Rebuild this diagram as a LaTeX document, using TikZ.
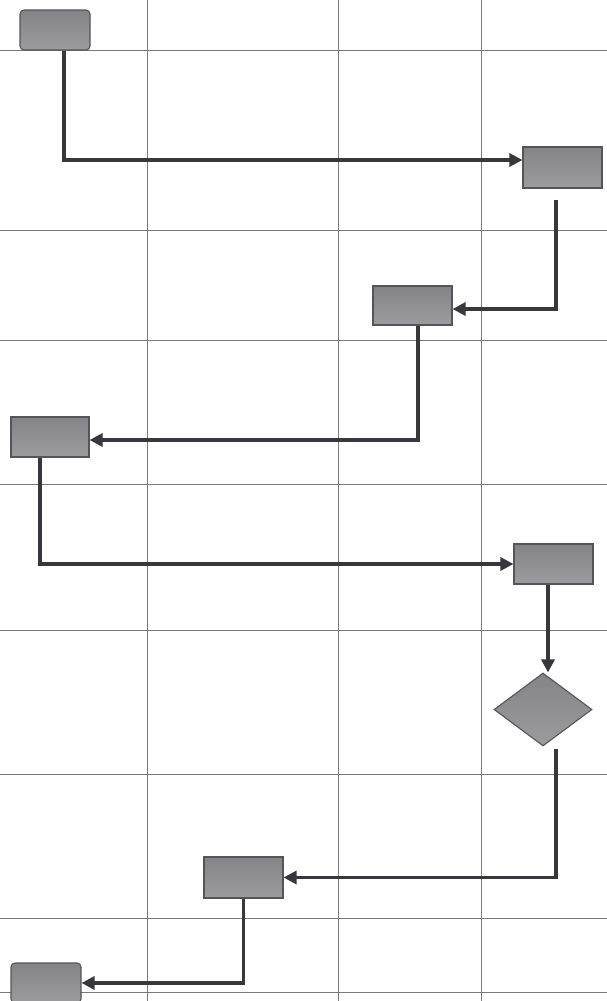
\documentclass[tikz,border=0pt]{standalone}
\usepackage{xcolor}
\usepackage{tikz}
\usetikzlibrary{shapes.geometric, arrows.meta, positioning, calc}

\definecolor{boxtop}{RGB}{132,132,134}
\definecolor{boxbot}{RGB}{156,156,158}
\definecolor{flowcol}{RGB}{55,55,60}
\definecolor{gridcol}{RGB}{120,120,126}

\tikzset{
	stepbox/.style={draw=flowcol!85, line width=1.1pt, top color=boxtop, bottom color=boxbot, minimum width=79pt, minimum height=40pt, inner sep=0pt},
	endbox/.style={stepbox, rounded corners=4pt, minimum width=70pt},
	choice/.style={stepbox, shape=diamond, minimum width=98pt, minimum height=73pt},
	flow/.style={draw=flowcol, line width=3.2pt, -{Triangle[length=13pt,width=13pt]}},
	gridline/.style={draw=gridcol, line width=0.9pt}
}

\begin{document}
\begin{tikzpicture}[x=1pt, y=-1pt]
			\useasboundingbox (0,0) rectangle (607,1001);
			\clip (0,0) rectangle (607,1001);
			\fill[white] (0,0) rectangle (607,1001);
			
			\foreach \x in {147, 338, 481}
			\draw[gridline] (\x, 0) -- (\x, 1001);
			
			\foreach \y in {50, 230, 340, 484, 630, 774, 918, 992}
			\draw[gridline] (0, \y) -- (607, \y);
			
			\node[endbox] (start) at (55, 30) {};
			\node[stepbox, minimum height=41pt] (stepa) at (562.5, 167.5) {};
			\node[stepbox, minimum height=39pt] (stepb) at (412.5, 305.5) {};
			\node[stepbox, minimum width=78pt] (stepc) at (50, 437) {};
			\node[stepbox] (stepd) at (553.5, 564) {};
			\node[choice] (test) at (543, 709.5) {};
			\node[stepbox, minimum height=41pt] (stepe) at (243.5, 877.5) {};
			\node[endbox] (finish) at (46, 983) {};
			
			\draw[flow] ([xshift=9pt]start.south) |- ([yshift=7.5pt]stepa.west);
			\draw[flow] ([xshift=-6.5pt, yshift=-11pt]stepa.south) |- ([yshift=-3.5pt]stepb.east);
			\draw[flow] ([xshift=5.5pt]stepb.south) |- ([yshift=-3pt]stepc.east);
			\draw[flow] ([xshift=-10pt]stepc.south) |- (stepd.west);
			\draw[flow] ([xshift=-5.5pt]stepd.south) -- ([xshift=-5.5pt]stepd.south |- test.north);
			\draw[flow] ([xshift=13pt, yshift=-2pt]test.south) |- (stepe.east);
			\draw[flow] (stepe.south) |- (finish.east);
			\end{tikzpicture}
\end{document}
